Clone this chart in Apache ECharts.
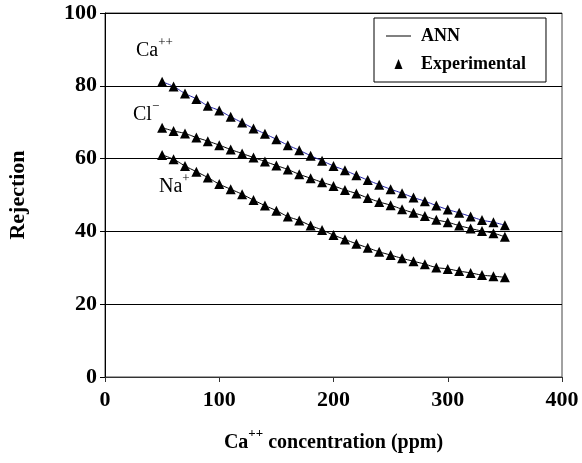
<!DOCTYPE html>
<html>
<head>
<meta charset="utf-8">
<script src="https://cdn.jsdelivr.net/npm/echarts@6/dist/echarts.min.js"></script>
<style>
html,body{margin:0;padding:0;background:#fff;}
#chart{width:582px;height:463px;}
</style>
</head>
<body>
<div id="chart"></div>
<script>
// Ca++ concentration (ppm)
var conc = [50,60,70,80,90,100,110,120,130,140,150,160,170,180,190,200,210,220,230,240,250,260,270,280,290,300,310,320,330,340,350];
// Rejection (%)
var caRej = [81.1,79.8,77.9,76.4,74.5,73.2,71.5,69.9,68.3,66.8,65.3,63.7,62.3,60.8,59.4,58.0,56.8,55.4,54.1,52.8,51.6,50.5,49.3,48.3,47.1,46.0,45.1,44.1,43.1,42.5,41.7];
var clRej = [68.5,67.6,66.9,65.8,64.8,63.7,62.5,61.4,60.3,59.2,58.1,57.0,55.7,54.6,53.5,52.5,51.4,50.4,49.2,48.1,47.2,46.1,45.1,44.2,43.2,42.5,41.6,40.8,40.1,39.5,38.5];
var naRej = [61.0,59.8,58.0,56.4,54.8,53.0,51.6,50.2,48.6,47.1,45.7,44.1,43.0,41.6,40.4,39.0,37.8,36.6,35.5,34.4,33.5,32.6,31.8,31.0,30.1,29.7,29.1,28.6,28.0,27.7,27.4];
var xTicks = [0,100,200,300,400];
var yTicks = [0,20,40,60,80,100];

function pairs(ys){ return conc.map(function(x,i){ return [x, ys[i]]; }); }

var serif = '"Liberation Serif","Times New Roman",serif';
var chart = echarts.init(document.getElementById('chart'), null, {renderer:'canvas'});

function annSeries(data, color){
  return {name:'ANN', type:'line', data:pairs(data), symbol:'none', showSymbol:false, smooth:true,
    lineStyle:{color:color, width:1}, itemStyle:{color:color}, z:2, silent:true};
}
function expSeries(data){
  return {name:'Experimental', type:'scatter', data:pairs(data), symbol:'triangle',
    symbolSize:[10,10], itemStyle:{color:'#000', opacity:1}, z:3, silent:true};
}

chart.setOption({
  animation:false,
  backgroundColor:'#fff',
  grid:{left:105, right:20, top:13, bottom:86, show:true, borderColor:'#444', borderWidth:1,
        containLabel:false, outerBoundsMode:'none'},
  legend:{
    orient:'vertical', left:374, top:18,
    padding:[9,20,9,12], itemGap:10,
    itemWidth:25, itemHeight:12,
    backgroundColor:'#fff', borderColor:'#000', borderWidth:1,
    textStyle:{fontFamily:serif, fontWeight:'bold', fontSize:18, color:'#000', padding:[0,0,0,5]},
    data:[
      {name:'ANN', icon:'path://M0,0 M0,5.5 L25,5.5 L25,6.5 L0,6.5 Z M25,12', itemStyle:{color:'#000'}},
      {name:'Experimental', icon:'path://M0,0 M12.5,1 L16.5,11 L8.5,11 Z M25,12', itemStyle:{color:'#000'}}
    ]
  },
  xAxis:{
    type:'value', min:xTicks[0], max:xTicks[xTicks.length-1], interval:100,
    name:'{m|Ca}{s|++}{m| concentration (ppm)}', nameLocation:'middle', nameGap:50,
    nameTextStyle:{fontFamily:serif, fontWeight:'bold', fontSize:20, color:'#000',
      rich:{m:{fontFamily:serif, fontWeight:'bold', fontSize:20, color:'#000'},
            s:{fontFamily:serif, fontWeight:'bold', fontSize:13, color:'#000', padding:[0,0,18,0]}}},
    axisLine:{lineStyle:{color:'#333', width:1}},
    axisTick:{show:true, inside:false, length:5, lineStyle:{color:'#333'}},
    axisLabel:{fontFamily:serif, fontWeight:'bold', fontSize:22, color:'#000', margin:12},
    splitLine:{show:false}
  },
  yAxis:{
    type:'value', min:yTicks[0], max:yTicks[yTicks.length-1], interval:20,
    name:'Rejection', nameLocation:'middle', nameGap:76,
    nameTextStyle:{fontFamily:serif, fontWeight:'bold', fontSize:22, color:'#000'},
    axisLine:{show:true, lineStyle:{color:'#000', width:1}},
    axisTick:{show:true, inside:false, length:5, lineStyle:{color:'#000'}},
    axisLabel:{fontFamily:serif, fontWeight:'bold', fontSize:22, color:'#000', margin:8},
    splitLine:{show:true, lineStyle:{color:'#000', width:1}}
  },
  graphic:[
    {type:'text', left:136, top:36, style:{text:'{m|Ca}{s|++}', rich:{
      m:{fontFamily:serif, fontSize:20, fill:'#000'},
      s:{fontFamily:serif, fontSize:13, fill:'#000', padding:[0,0,16,0]}}}},
    {type:'text', left:133, top:100, style:{text:'{m|Cl}{s|\u2212}', rich:{
      m:{fontFamily:serif, fontSize:20, fill:'#000'},
      s:{fontFamily:serif, fontSize:13, fill:'#000', padding:[0,0,16,0]}}}},
    {type:'text', left:159, top:172, style:{text:'{m|Na}{s|+}', rich:{
      m:{fontFamily:serif, fontSize:20, fill:'#000'},
      s:{fontFamily:serif, fontSize:13, fill:'#000', padding:[0,0,16,0]}}}}
  ],
  series:[
    annSeries(clRej, '#000'),
    annSeries(naRej, '#000'),
    annSeries(caRej, '#2424a8'),
    expSeries(caRej),
    expSeries(clRej),
    expSeries(naRej)
  ]
});
</script>
</body>
</html>
